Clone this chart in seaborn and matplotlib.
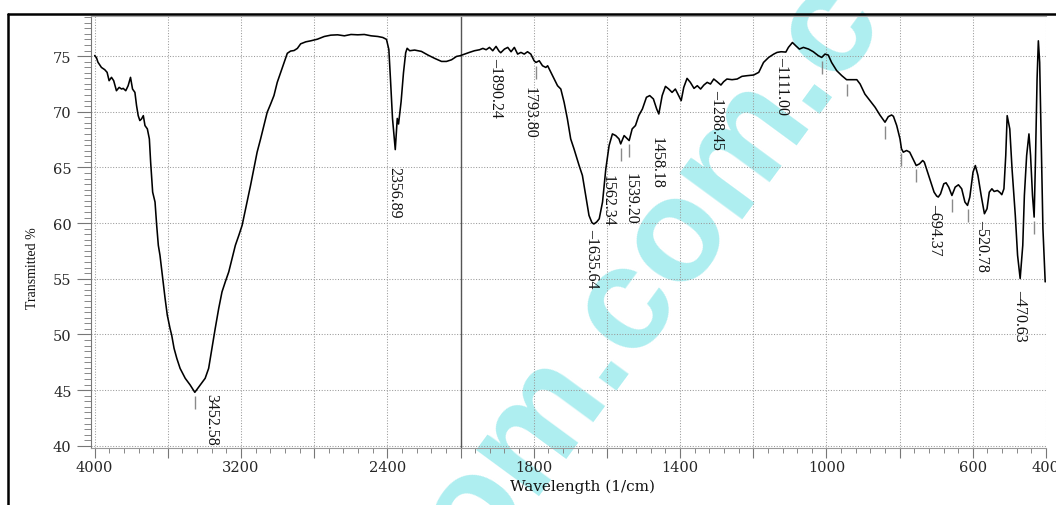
import numpy as np
import pandas as pd
import seaborn as sns
import matplotlib
matplotlib.use("Agg")
import matplotlib.pyplot as plt
from matplotlib.ticker import FixedLocator, FuncFormatter, NullFormatter
from matplotlib.lines import Line2D

# IR transmission spectrum (wavenumber in 1/cm, transmittance in %)
wavenumber = [
    4000, 3990, 3982, 3963, 3945, 3932, 3921, 3908, 3896, 3881, 3866, 3853, 3844, 3830,
    3817, 3804, 3793, 3780, 3771, 3762, 3753, 3744, 3734, 3725, 3712, 3701, 3694, 3683,
    3670, 3661, 3652, 3643, 3628, 3615, 3603, 3588, 3579, 3566, 3551, 3533, 3505, 3478,
    3452.58, 3423, 3396, 3377, 3359, 3341, 3322, 3304, 3286, 3267, 3249, 3231, 3212, 3194,
    3167, 3148, 3130, 3112, 3093, 3075, 3057, 3038, 3020, 3002, 2984, 2965, 2947, 2929,
    2910, 2892, 2874, 2846, 2819, 2782, 2745, 2709, 2672, 2635, 2599, 2562, 2526, 2489,
    2452, 2425, 2405, 2392, 2383, 2372, 2356.89, 2350, 2346, 2339, 2325, 2312, 2300, 2292,
    2278, 2251, 2214, 2178, 2141, 2104, 2077, 2049, 2022, 2003, 1989, 1976, 1962, 1948,
    1939, 1930, 1921, 1912, 1903, 1895, 1890.24, 1880, 1871, 1862, 1853, 1844, 1835, 1826,
    1817, 1808, 1799, 1793.80, 1785, 1776, 1767, 1762, 1753, 1744, 1735, 1726, 1717, 1708,
    1699, 1690, 1676, 1667, 1658, 1649, 1641, 1635.64, 1628, 1621, 1612, 1603, 1594, 1585,
    1576, 1567, 1562.34, 1553, 1544, 1539.20, 1531, 1522, 1513, 1503, 1492, 1483, 1473, 1464,
    1458.18, 1449, 1440, 1431, 1422, 1413, 1404, 1397, 1390, 1381, 1372, 1362, 1353, 1344,
    1335, 1326, 1317, 1308, 1299, 1288.45, 1281, 1272, 1258, 1244, 1231, 1217, 1199, 1185,
    1172, 1158, 1144, 1135, 1124, 1111.00, 1104, 1093, 1084, 1074, 1063, 1049, 1036, 1022,
    1013, 1004, 995, 986, 972, 958, 945, 931, 917, 908, 895, 881, 867, 854,
    840, 831, 822, 817, 808, 799, 795, 790, 781, 772.5, 763.6, 754.7, 745.8, 737,
    732.5, 723.7, 714.8, 705.9, 698.8, 694.37, 688.2, 679.3, 673.1, 665.9, 657.1, 648.2, 639.3, 630.4,
    621.6, 614.5, 608.2, 599.4, 593.1, 586, 577.2, 568.3, 561.2, 555, 547.9, 541.7, 532.8, 526,
    520.78, 515, 510, 506.1, 499, 492.8, 483.9, 477.7, 470.63, 463.5, 459.1, 452.9, 446.6, 442.2,
    436.9, 432.4, 428.9, 424.4, 420.9, 417.3, 412.9, 408.4, 402.2,
]
transmittance = [
    75.05, 74.85, 74.45, 73.98, 73.78, 73.54, 72.79, 73.09, 72.79, 71.89, 72.19, 72.04, 72.10, 71.89,
    72.34, 73.09, 72.04, 71.74, 70.55, 69.65, 69.21, 69.35, 69.65, 68.76, 68.46, 67.56, 65.47, 62.78,
    61.89, 59.80, 58.00, 57.11, 55.02, 53.23, 51.73, 50.54, 49.94, 48.75, 47.85, 46.95, 46.06, 45.46,
    44.80, 45.46, 46.06, 46.95, 48.75, 50.54, 52.33, 53.82, 54.72, 55.62, 56.81, 58.00, 58.90, 59.80,
    61.89, 63.38, 64.87, 66.37, 67.56, 68.76, 69.95, 70.70, 71.45, 72.64, 73.50, 74.43, 75.25, 75.45,
    75.50, 75.69, 76.10, 76.28, 76.37, 76.52, 76.76, 76.88, 76.91, 76.82, 76.94, 76.91, 76.94, 76.82,
    76.76, 76.67, 76.50, 75.60, 72.90, 69.40, 66.60, 68.40, 69.40, 68.90, 70.90, 73.50, 75.30, 75.70,
    75.48, 75.54, 75.42, 75.09, 74.79, 74.52, 74.52, 74.67, 74.97, 75.03, 75.18, 75.33, 75.48, 75.57,
    75.69, 75.57, 75.78, 75.48, 75.87, 75.45, 75.30, 75.63, 75.78, 75.39, 75.78, 75.18, 75.33, 75.18,
    75.39, 75.18, 74.58, 74.43, 74.58, 74.13, 73.98, 74.13, 73.54, 72.94, 72.34, 72.04, 70.85, 69.35,
    67.56, 66.67, 65.17, 64.28, 62.48, 60.69, 60.04, 59.92, 60.10, 60.39, 61.89, 64.87, 66.97, 68.01,
    67.86, 67.56, 67.11, 67.86, 67.56, 67.41, 68.46, 68.76, 69.65, 70.25, 71.30, 71.45, 71.15, 70.25,
    69.80, 71.45, 72.28, 72.04, 71.74, 72.04, 71.45, 71.00, 72.19, 73.00, 72.64, 72.10, 72.34, 72.04,
    72.40, 72.64, 72.49, 72.94, 72.70, 72.40, 72.70, 72.94, 72.88, 72.94, 73.18, 73.24, 73.30, 73.54,
    74.43, 74.88, 75.18, 75.33, 75.39, 75.36, 75.78, 76.22, 75.93, 75.63, 75.78, 75.63, 75.39, 75.03,
    74.88, 75.18, 75.09, 74.43, 73.69, 73.24, 72.88, 72.88, 72.88, 72.49, 71.59, 71.00, 70.40, 69.71,
    69.06, 69.56, 69.71, 69.59, 68.76, 67.56, 66.67, 66.37, 66.52, 66.37, 65.77, 65.17, 65.32, 65.62,
    65.47, 64.58, 63.68, 62.78, 62.43, 62.34, 62.63, 63.53, 63.62, 63.23, 62.48, 63.23, 63.44, 63.08,
    61.89, 61.59, 62.34, 64.58, 65.17, 64.28, 62.48, 60.84, 61.29, 62.78, 63.08, 62.84, 62.93, 62.75,
    62.55, 63.08, 66.07, 69.65, 68.46, 64.87, 60.69, 57.11, 55.02, 58.00, 62.48, 66.07, 68.01, 66.07,
    62.48, 60.54, 65.47, 72.94, 76.37, 74.43, 66.97, 59.50, 54.72,
]

# Peak positions printed on the chart, and further marked (unlabelled) peaks
peak_labels = [3452.58, 2356.89, 1890.24, 1793.80, 1635.64, 1562.34, 1539.20,
               1458.18, 1288.45, 1111.00, 694.37, 520.78, 470.63]
marked_peaks = [1013, 945, 840, 795, 754.7, 657.1, 614.5, 432.4]

major_x_ticks = [4000, 3600, 3200, 2800, 2400, 2000, 1800, 1600, 1400, 1200, 1000, 800, 600, 400]
x_tick_labels = [4000, 3200, 2400, 1800, 1400, 1000, 600, 400]
y_ticks = [40, 45, 50, 55, 60, 65, 70, 75]

df = pd.DataFrame({"wavenumber": wavenumber, "transmittance": transmittance})

sns.set_style("white")
plt.rcParams["font.family"] = ["DejaVu Serif"]

W, H = 1056, 506
fig = plt.figure(figsize=(W / 100, H / 100), dpi=100)
fig.patch.set_facecolor("white")
ax = fig.add_axes([91 / W, 1 - 449 / H, (1046 - 91) / W, (449 - 17) / H])
ax.patch.set_visible(False)

sns.lineplot(data=df, x="wavenumber", y="transmittance", ax=ax, sort=False,
             estimator=None, color="black", linewidth=1.15, zorder=3)


# Abscissa is compressed by half above 2000 1/cm
def _fwd(w):
    w = np.asarray(w, dtype=float)
    return np.where(w > 2000, 2000 + (w - 2000) / 2.0, w)


def _inv(t):
    t = np.asarray(t, dtype=float)
    return np.where(t > 2000, 2000 + 2.0 * (t - 2000), t)


ax.set_xscale("function", functions=(_fwd, _inv))
ax.set_xlim(4020, 400)
ax.set_ylim(39.8, 78.6)

minor_x = list(np.arange(2000, 4001, 80)) + list(np.arange(400, 2000, 40))
ax.xaxis.set_major_locator(FixedLocator(major_x_ticks))
ax.xaxis.set_minor_locator(FixedLocator(minor_x))
ax.xaxis.set_major_formatter(FuncFormatter(
    lambda v, pos: f"{int(round(v))}" if int(round(v)) in x_tick_labels else ""))
ax.xaxis.set_minor_formatter(NullFormatter())

ax.yaxis.set_major_locator(FixedLocator(y_ticks))
ax.yaxis.set_minor_locator(FixedLocator(list(np.arange(40, 78.6, 0.5))))

ax.tick_params(axis="y", which="major", direction="out", length=10, width=0.8,
               color="#777777", labelsize=10.5, pad=4, left=True)
ax.tick_params(axis="y", which="minor", direction="out", length=5, width=0.7,
               color="#888888", left=True)
ax.tick_params(axis="x", which="major", direction="out", length=7, width=0.8,
               color="#777777", labelsize=10.5, pad=2, bottom=True)
ax.tick_params(axis="x", which="minor", direction="out", length=3.5, width=0.7,
               color="#888888", bottom=True)

ax.set_xlabel("")
ax.set_ylabel("")

# Dotted chart-paper grid plus the solid scale-change line at 2000
ax.grid(True, which="major", axis="both", color="#9a9a9a", linewidth=0.75,
        linestyle=(0, (1, 1.6)))
ax.axvline(2000, color="#555555", linewidth=1.0, zorder=2)

for side, col in (("left", "#777777"), ("top", "#aaaaaa"), ("bottom", "#999999")):
    ax.spines[side].set_color(col)
    ax.spines[side].set_linewidth(0.8)
ax.spines["right"].set_visible(False)

# Peak annotations: (text top in %T, horizontal shift in px, leading dash)
label_layout = {
    3452.58: (44.71, 16, False),
    2356.89: (65.14, -1, False),
    1890.24: (74.95, -5, True),
    1793.80: (72.31, -6, False),
    1635.64: (59.55, -2, True),
    1562.34: (64.43, -13, False),
    1539.20: (64.61, 1, False),
    1458.18: (67.83, -2, False),
    1288.45: (72.00, -4, True),
    1111.00: (75.05, -4, True),
    694.37: (61.80, -3, True),
    520.78: (60.40, -20, True),
    470.63: (54.10, 0, True),
}
for value in peak_labels:
    top, dx, dash = label_layout[value]
    text = ("\u2013" if dash else "") + f"{value:.2f}"
    ax.annotate(text, xy=(value, top), xytext=(dx, 0), textcoords="offset pixels",
                rotation=270, ha="center", va="top", fontsize=11.5,
                family="Liberation Serif", color="#111111", zorder=4)

# Short grey peak markers just below the trace
wn_asc = np.asarray(wavenumber)[::-1]
tr_asc = np.asarray(transmittance)[::-1]
tick_peaks = [3452.58, 1793.80, 1562.34, 1539.20] + marked_peaks
tick_vals = np.interp(tick_peaks, wn_asc, tr_asc)
ax.vlines(tick_peaks, tick_vals - 1.5, tick_vals - 0.35, color="#8a8a8a",
          linewidth=1.0, zorder=3)

# Axis titles
fig.text(583 / W, 1 - 487 / H, "Wavelength (1/cm)", ha="center", va="center",
         fontsize=11, family="DejaVu Serif", color="#111111", zorder=5)
fig.text(33 / W, 1 - 268 / H, "Transmitted %", ha="center", va="center",
         rotation=90, fontsize=10, family="Liberation Serif", color="#111111", zorder=5)

# Page frame
fig.add_artist(Line2D([8 / W, 8 / W], [0, 1 - 15 / H], transform=fig.transFigure,
                      color="black", linewidth=1.8))
fig.add_artist(Line2D([8 / W, 1], [1 - 15 / H, 1 - 15 / H], transform=fig.transFigure,
                      color="black", linewidth=1.8))

# Background watermark
fig.text(682 / W, 1 - 295 / H, "om.com.c", rotation=53.7, rotation_mode="anchor",
         ha="center", va="baseline", fontsize=106, fontweight="bold",
         family="Liberation Sans", color="#aeeef0", zorder=-1)

fig.savefig("out.png", dpi=100, facecolor="white")
